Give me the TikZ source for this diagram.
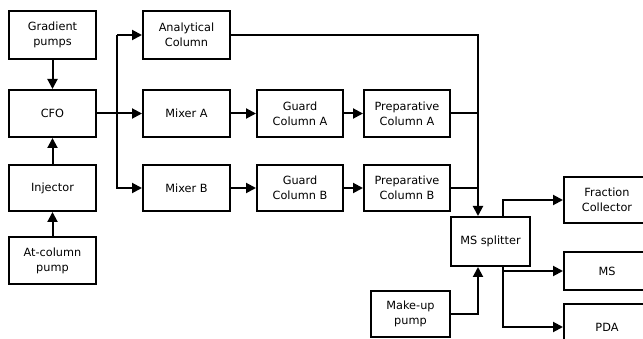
\documentclass[tikz,border=0pt]{standalone}
\usepackage{fontspec}
\setmainfont{DejaVu Sans}
\usetikzlibrary{arrows.meta,calc}
\begin{document}
\begin{tikzpicture}[x=1pt,y=-1pt,
  blk/.style={draw=black,line width=2pt,fill=white,inner sep=0pt,align=center,
    font=\fontsize{11.3}{15}\selectfont},
  conn/.style={line width=2pt,-{Triangle[length=10pt,width=10pt]}},
  plain/.style={line width=2pt}]
\path[use as bounding box,clip] (0,0) rectangle (643,339);
\fill[white] (0,0) rectangle (643,339);
\newcommand{\bx}[6]{\node[blk,minimum width=#4-#2,minimum height=#5-#3] (#1) at ({(#2+#4)/2},{(#3+#5)/2}) {#6};}
\bx{grad}{9}{11}{96}{59}{Gradient\\pumps}
\bx{cfo}{9}{90}{96}{137}{CFO}
\bx{inj}{9}{165}{96}{211}{Injector}
\bx{atc}{9}{237}{96}{284}{At-column\\pump}
\bx{ana}{143}{11}{230}{59}{Analytical\\Column}
\bx{mixa}{143}{90}{230}{137}{Mixer A}
\bx{mixb}{143}{165}{230}{211}{Mixer B}
\bx{guaa}{257}{90}{343}{137}{Guard\\Column A}
\bx{guab}{257}{165}{343}{211}{Guard\\Column B}
\bx{prepa}{364}{90}{450}{137}{Preparative\\Column A}
\bx{prepb}{364}{165}{450}{211}{Preparative\\Column B}
\bx{mss}{451}{217}{530}{266}{MS splitter}
\bx{mup}{371}{291}{450}{337}{Make-up\\pump}
\bx{fc}{564}{177}{650}{223}{Fraction\\Collector}
\bx{ms}{564}{252}{650}{290}{MS}
\bx{pda}{564}{304}{650}{350}{PDA}
\coordinate (br) at (117,0);
\coordinate (inx) at (478,0);
\coordinate (outx) at (503,0);
% left column
\draw[conn] (grad.south) -- (cfo.north);
\draw[conn] (inj.north) -- (cfo.south);
\draw[conn] (atc.north) -- (inj.south);
% branch
\draw[conn] (cfo.east) -- (mixa.west);
\draw[conn] (br |- ana.west) -- (ana.west);
\draw[conn] (br |- ana.west) |- (mixb.west);
\draw[conn] (mixa) -- (guaa);
\draw[conn] (guaa) -- (prepa);
\draw[conn] (mixb) -- (guab);
\draw[conn] (guab) -- (prepb);
% to splitter
\draw[conn] (ana.east) -| (inx |- mss.north);
\draw[plain] (prepa.east) -- (inx |- prepa.east);
\draw[plain] (prepb.east) -- (inx |- prepb.east);
\draw[conn] (mup.east) -| (inx |- mss.south);
% outputs
\draw[conn] (outx |- mss.north) |- (fc.west);
\draw[conn] (outx |- mss.south) |- (ms.west);
\draw[conn] (outx |- mss.south) |- (pda.west);
\end{tikzpicture}
\end{document}
